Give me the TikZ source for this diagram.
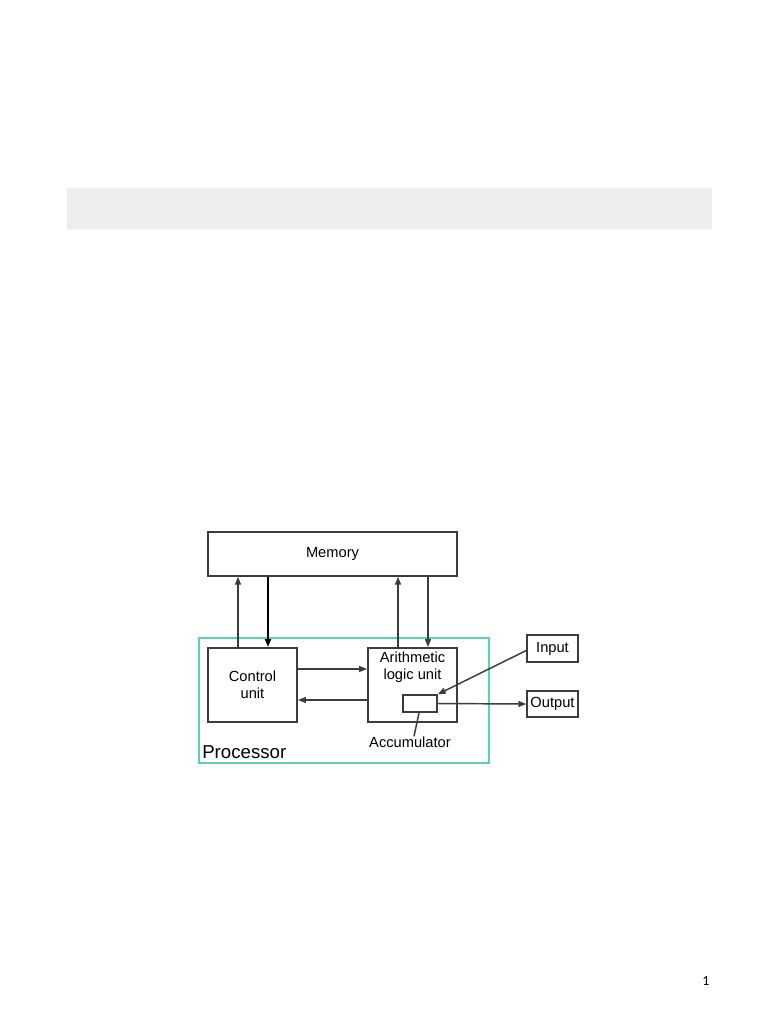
\documentclass[tikz,border=0pt]{standalone}
\usepackage{fontspec}
\setmainfont{Liberation Sans}
\newfontfamily\pagefont{Carlito}
\usetikzlibrary{arrows.meta}
\definecolor{procteal}{RGB}{80,218,172}
\definecolor{bandgray}{RGB}{237,237,237}
\definecolor{linegray}{RGB}{60,60,60}
\tikzset{
  box/.style={draw=linegray, line width=1.1pt, inner sep=0pt, font=\fontsize{11pt}{12.5pt}\selectfont, align=center},
  arr/.style={draw=linegray, line width=1.1pt, -{Triangle[length=6pt,width=4.5pt]}},
  lbl/.style={inner sep=0pt, font=\fontsize{11pt}{12.5pt}\selectfont, align=center}
}
\begin{document}
\begin{tikzpicture}[x=0.75pt,y=-0.75pt]
\useasboundingbox (0,0) rectangle (768,1024);
\fill[bandgray] (67,188) rectangle (712,229);
% nodes
\node (mem) [box, minimum width=249*0.75pt, minimum height=44*0.75pt] at (332.5,554) {Memory};
\node (proc) [draw=procteal, line width=0.9pt, minimum width=290*0.75pt, minimum height=125*0.75pt, inner sep=0pt] at (344,700.5) {};
\node (ctrl) [box, line width=1.4pt, minimum width=89*0.75pt, minimum height=74*0.75pt] at (252.5,685) {Control\\unit};
\node (alu) [box, line width=1.4pt, minimum width=89*0.75pt, minimum height=74*0.75pt] at (412.5,685) {};
\node (alutext) [lbl, anchor=north] at (412.5,652) {Arithmetic\\logic unit};
\node (acc) [box, minimum width=34*0.75pt, minimum height=17*0.75pt] at (420,703.5) {};
\node (in) [box, minimum width=51*0.75pt, minimum height=27*0.75pt] at (552.5,648.5) {Input};
\node (out) [box, minimum width=51*0.75pt, minimum height=26*0.75pt] at (552.5,704) {Output};
\node (acclbl) [lbl] at (410,742) {Accumulator};
\node (proclbl) [inner sep=0pt, font=\fontsize{14pt}{16pt}\selectfont, anchor=west] at (202,752) {Processor};
\node (pagenum) [inner sep=0pt, font=\pagefont\fontsize{10.5pt}{12pt}\selectfont] at (706,981) {1};
% helper coordinates
\coordinate (x1) at (238,0);
\coordinate (x2) at (268,0);
\coordinate (x3) at (398,0);
\coordinate (x4) at (428,0);
\coordinate (y1) at (0,669);
\coordinate (y2) at (0,700);
% connectors
\draw[arr] (ctrl.north -| x1) -- (mem.south -| x1);
\draw[arr, draw=black, line width=1.4pt] (mem.south -| x2) -- (ctrl.north -| x2);
\draw[arr] (alu.north -| x3) -- (mem.south -| x3);
\draw[arr] (mem.south -| x4) -- (alu.north -| x4);
\draw[arr] (ctrl.east |- y1) -- (alu.west |- y1);
\draw[arr] (alu.west |- y2) -- (ctrl.east |- y2);
\draw[arr] ([yshift=-2*0.75pt]in.west) -- (acc.north east);
\draw[arr] (acc.east) -- (out.west);
\draw[draw=linegray, line width=1.1pt] (acclbl.north) ++(4,0) -- ([xshift=-1*0.75pt]acc.south);
\end{tikzpicture}
\end{document}
